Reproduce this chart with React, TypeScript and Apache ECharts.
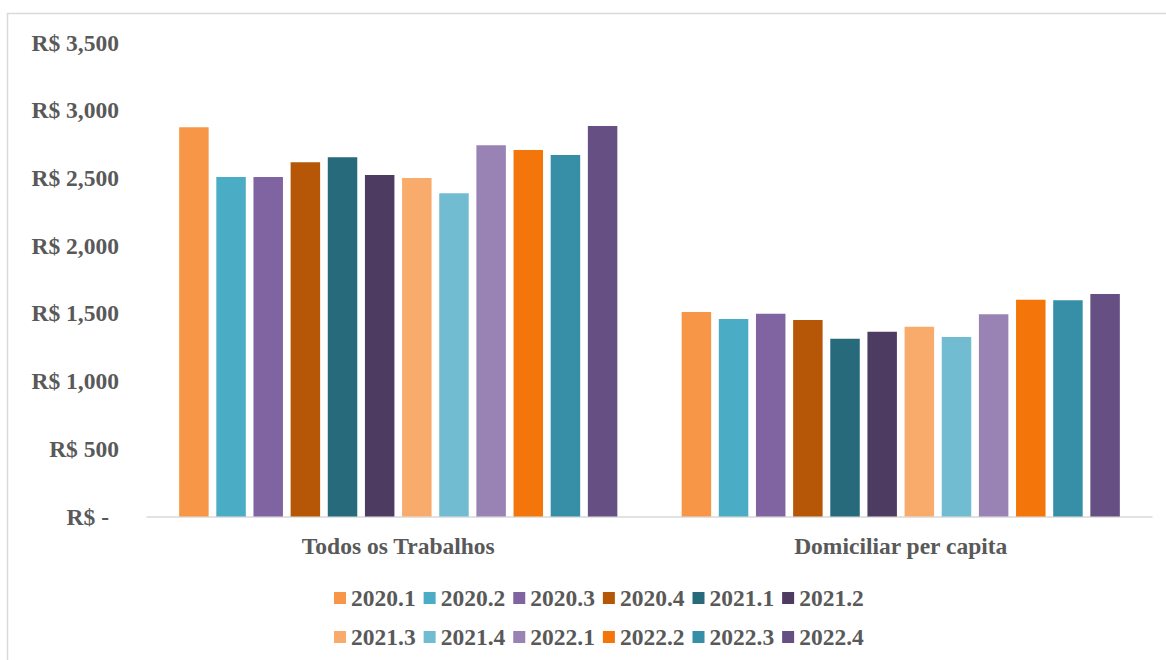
import React, { useEffect, useRef } from "react";
import * as echarts from "echarts";

const categories = ["Todos os Trabalhos", "Domiciliar per capita"];
const quarters = [
  "2020.1", "2020.2", "2020.3", "2020.4", "2021.1", "2021.2",
  "2021.3", "2021.4", "2022.1", "2022.2", "2022.3", "2022.4",
];
const todosValues = [2874, 2507, 2507, 2615, 2652, 2522, 2499, 2386, 2741, 2706, 2669, 2883];
const domiciliarValues = [1510, 1458, 1497, 1451, 1313, 1365, 1402, 1325, 1493, 1601, 1596, 1643];
const colors = [
  "#F79646", "#4BACC6", "#8064A2", "#B65708", "#276A7C", "#4D3B62",
  "#F9AB6B", "#72BCD2", "#9983B5", "#F47509", "#368EA7", "#654F83",
];
const yTicks = [0, 500, 1000, 1500, 2000, 2500, 3000, 3500];

const FONT = "'Liberation Serif', 'Times New Roman', serif";
const TXT = "#595959";

function fmt(v: number): string {
  if (v === 0) return "{z|R$ -}";
  return "R$ " + v.toLocaleString("en-US");
}

export default function App() {
  const ref = useRef<HTMLDivElement>(null);
  useEffect(() => {
    if (!ref.current) return;
    const chart = echarts.init(ref.current, null, { renderer: "svg" });
    const textStyle = { fontFamily: FONT, fontWeight: "bold" as const, fontSize: 23.5, color: TXT };
    chart.setOption({
      animation: false,
      backgroundColor: "#ffffff",
      graphic: [
        {
          type: "rect",
          shape: { x: 7.5, y: 13.5, width: 1300, height: 800 },
          style: { fill: "none", stroke: "#d9d9d9", lineWidth: 1.5 },
          silent: true,
        },
      ],
      grid: { left: 147, right: 14, top: 42.5, bottom: 143.5, containLabel: false },
      xAxis: {
        type: "category",
        data: categories,
        axisLine: { lineStyle: { color: "#d9d9d9", width: 1.5 } },
        axisTick: { show: false },
        axisLabel: { ...textStyle, margin: 17 },
      },
      yAxis: {
        type: "value",
        min: yTicks[0],
        max: yTicks[yTicks.length - 1],
        interval: 500,
        splitLine: { show: false },
        axisLine: { show: false },
        axisTick: { show: false },
        axisLabel: {
          ...textStyle,
          margin: 28,
          formatter: (v: number) => fmt(v),
          rich: { z: { ...textStyle, padding: [0, 10, 0, 0] } },
        },
      },
      legend: [
        {
          data: quarters.slice(0, 6),
          left: 329,
          top: 581,
          itemWidth: 12,
          itemHeight: 12,
          itemGap: 8,
          icon: "rect",
          textStyle: { ...textStyle },
        },
        {
          data: quarters.slice(6),
          left: 329,
          top: 620,
          itemWidth: 12,
          itemHeight: 12,
          itemGap: 8,
          icon: "rect",
          textStyle: { ...textStyle },
        },
      ],
      series: quarters.map((q, i) => ({
        name: q,
        type: "bar",
        data: [todosValues[i], domiciliarValues[i]],
        barGap: "26%",
        barCategoryGap: "12.8%",
        itemStyle: { color: colors[i] },
      })),
    });
    return () => chart.dispose();
  }, []);
  return (
    <div
      ref={ref}
      style={{ position: "fixed", left: 0, top: 0, width: 1166, height: 660 }}
    />
  );
}
